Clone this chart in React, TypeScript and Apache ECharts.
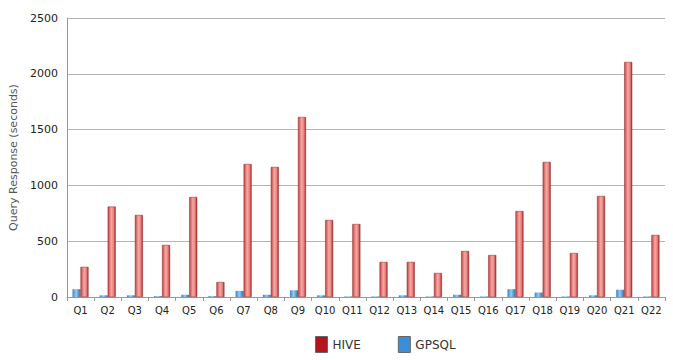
import React, { useEffect, useRef } from "react";
import * as echarts from "echarts";

const categories = ["Q1","Q2","Q3","Q4","Q5","Q6","Q7","Q8","Q9","Q10","Q11","Q12","Q13","Q14","Q15","Q16","Q17","Q18","Q19","Q20","Q21","Q22"];
const hiveValues = [270, 810, 735, 466, 896, 134, 1192, 1165, 1613, 690, 654, 314, 314, 215, 412, 376, 770, 1210, 394, 905, 2106, 556];
const gpsqlValues = [70, 15, 15, 8, 20, 8, 55, 20, 60, 15, 5, 5, 15, 5, 20, 5, 70, 40, 5, 15, 65, 5];
const yTicks = { min: 0, max: 2500, interval: 500 };

const redGrad = new echarts.graphic.LinearGradient(0, 0, 1, 0, [
  { offset: 0, color: "#c9413f" },
  { offset: 0.45, color: "#f6a9a6" },
  { offset: 0.75, color: "#e8817e" },
  { offset: 1, color: "#a52a28" },
]);
const blueGrad = new echarts.graphic.LinearGradient(0, 0, 1, 0, [
  { offset: 0, color: "#3a7fc6" },
  { offset: 0.45, color: "#9cc8ef" },
  { offset: 1, color: "#2f6fb2" },
]);

export default function App() {
  const ref = useRef<HTMLDivElement>(null);
  useEffect(() => {
    const chart = echarts.init(ref.current!, null, { renderer: "svg" });
    chart.setOption({
      animation: false,
      backgroundColor: "#ffffff",
      textStyle: { fontFamily: "DejaVu Sans" },
      grid: { left: 64, right: 8, top: 18, bottom: 63 },
      legend: {
        top: 331,
        left: 310,
        itemWidth: 12,
        itemHeight: 16,
        itemGap: 37,
        textStyle: { fontSize: 12, color: "#333" },
        data: [
          { name: "HIVE", icon: "rect", itemStyle: { color: "#b5141e", borderColor: "#666", borderWidth: 1 } },
          { name: "GPSQL", icon: "rect", itemStyle: { color: "#3b8fd6", borderColor: "#666", borderWidth: 1 } },
        ],
      },
      xAxis: {
        type: "category",
        data: categories,
        axisLine: { lineStyle: { color: "#999" } },
        axisTick: { show: true, alignWithLabel: false, length: 4, lineStyle: { color: "#999" } },
        axisLabel: { interval: 0, fontSize: 10, color: "#222", margin: 8 },
      },
      yAxis: {
        type: "value",
        min: yTicks.min,
        max: yTicks.max,
        interval: yTicks.interval,
        name: "Query Response (seconds)",
        nameLocation: "middle",
        nameGap: 47,
        nameTextStyle: { fontSize: 11, color: "#555" },
        axisLine: { show: true, lineStyle: { color: "#999" } },
        axisTick: { show: false },
        axisLabel: { fontSize: 11, color: "#222", margin: 9, formatter: (v: number) => String(v) },
        splitLine: { lineStyle: { color: "#b5b5b5" } },
      },
      series: [
        {
          name: "GPSQL",
          type: "bar",
          data: gpsqlValues,
          barWidth: 8,
          barGap: "0%",
          itemStyle: { color: blueGrad },
        },
        {
          name: "HIVE",
          type: "bar",
          data: hiveValues,
          barWidth: 8,
          itemStyle: { color: redGrad, borderColor: "#8a2a28", borderWidth: 0.5 },
        },
      ],
    });
    return () => chart.dispose();
  }, []);
  return <div ref={ref} style={{ width: 673, height: 360, position: "absolute", left: 0, top: 0 }} />;
}
